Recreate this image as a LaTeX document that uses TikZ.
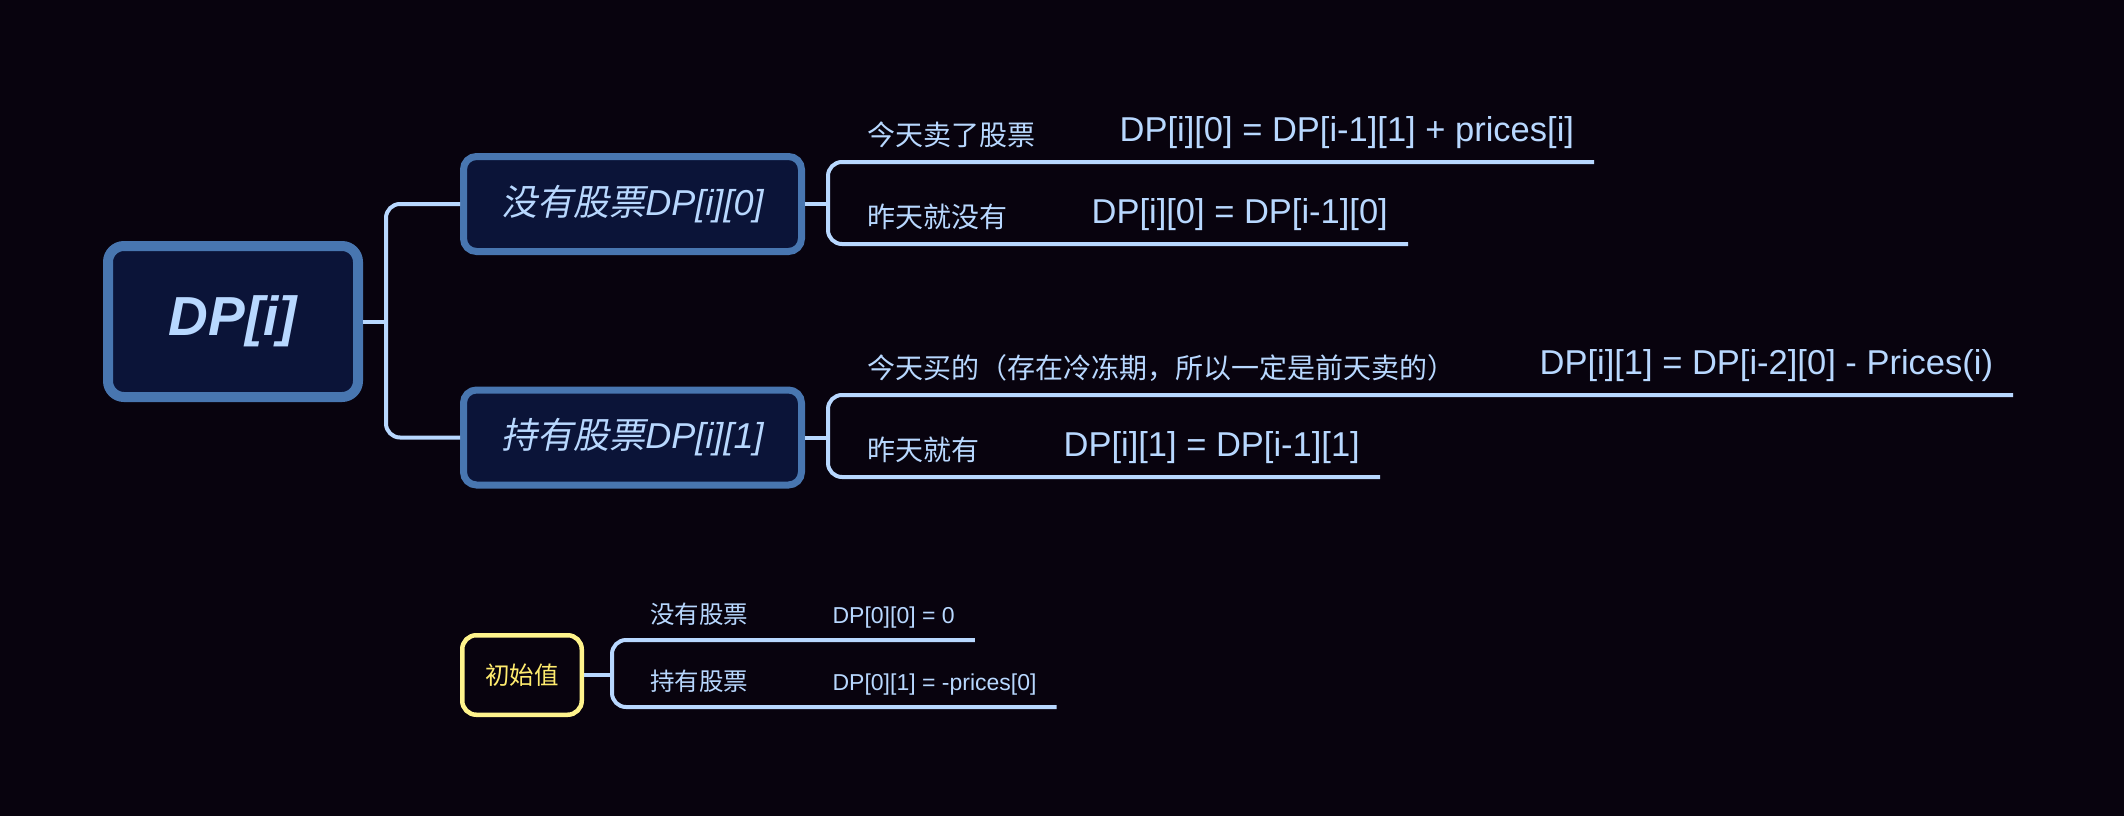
\documentclass[tikz,border=0pt]{standalone}
\usepackage{fontspec}
\setmainfont{Liberation Sans}
\newfontfamily\cjk{Noto Sans CJK SC}
\newfontfamily\cjkslant[FakeSlant=0.2]{Noto Sans CJK SC}
\usetikzlibrary{positioning}

\definecolor{bg}{RGB}{8,3,14}
\definecolor{navy}{RGB}{11,20,56}
\definecolor{steel}{RGB}{72,118,176}
\definecolor{ice}{RGB}{184,216,255}
\definecolor{lemon}{RGB}{255,244,140}
\definecolor{lemontext}{RGB}{255,236,110}

\tikzset{
  rootbox/.style={draw=steel, fill=navy, line width=10pt, rounded corners=16pt,
    minimum width=250pt, minimum height=151pt, text=ice,
    font=\fontsize{55}{60}\selectfont\bfseries\itshape},
  branchbox/.style={draw=steel, fill=navy, line width=7pt, rounded corners=13pt,
    minimum width=338pt, minimum height=95pt, text=ice,
    font=\fontsize{36}{40}\selectfont},
  initbox/.style={draw=lemon, line width=4.5pt, rounded corners=14pt,
    minimum width=119.5pt, minimum height=79.5pt, text=lemontext,
    font=\cjk\fontsize{24.5}{28}\selectfont},
  link/.style={draw=ice, line width=4pt, rounded corners=14pt},
  leaf/.style={inner sep=0pt, anchor=base west, text=ice,
    font=\cjk\fontsize{28}{32}\selectfont},
  formula/.style={inner sep=0pt, anchor=base west, text=ice,
    font=\fontsize{34.5}{40}\selectfont},
  smallleaf/.style={leaf, font=\cjk\fontsize{24.5}{28}\selectfont},
  smallformula/.style={formula, font=\fontsize{23}{26}\selectfont},
}

\begin{document}
\begin{tikzpicture}[x=1pt, y=-1pt]
  \fill[bg] (0,0) rectangle (2124,816);
  \useasboundingbox (0,0) rectangle (2124,816);

  % main tree
  \node[rootbox] (root) at (233,321.5) {DP[i]};
  \node[branchbox] (b0) at (632.5,204) {{\cjkslant 没有股票}{\itshape DP[i][0]}};
  \node[branchbox] (b1) at (632.5,437.5) {{\cjkslant 持有股票}{\itshape DP[i][1]}};

  \coordinate (jr) at (386,321.5);
  \draw[link] (root.east) -- (jr);
  \draw[link] (b0.west) -| (jr) |- (b1.west);

  % rows under the branches
  \coordinate (r00) at (828,162);
  \coordinate (r01) at (828,244);
  \coordinate (r10) at (828,395);
  \coordinate (r11) at (828,477);

  \node[leaf] (l00) at ([shift={(39,-17)}]r00) {今天卖了股票};
  \node[formula, right=84pt of l00.base east, anchor=base west, yshift=4pt] (f00) {DP[i][0] = DP[i-1][1] + prices[i]};
  \node[leaf] (l01) at ([shift={(39,-17)}]r01) {昨天就没有};
  \node[formula, right=84pt of l01.base east, anchor=base west, yshift=4pt] (f01) {DP[i][0] = DP[i-1][0]};
  \node[leaf] (l10) at ([shift={(39,-17)}]r10) {今天买的（存在冷冻期，所以一定是前天卖的）};
  \node[formula, right=84pt of l10.base east, anchor=base west, yshift=4pt] (f10) {DP[i][1] = DP[i-2][0] - Prices(i)};
  \node[leaf] (l11) at ([shift={(39,-17)}]r11) {昨天就有};
  \node[formula, right=84pt of l11.base east, anchor=base west, yshift=4pt] (f11) {DP[i][1] = DP[i-1][1]};

  \foreach \r in {00, 01, 10, 11} {
    \coordinate (e\r) at (f\r.east |- r\r);
  }

  \coordinate (j0) at (b0.east -| r00);
  \coordinate (j1) at (b1.east -| r10);
  \draw[link] (b0.east) -- (j0);
  \draw[link] (b1.east) -- (j1);
  \draw[link] ([xshift=20pt]e00) -- (r00) -- (r01) -- ([xshift=20pt]e01);
  \draw[link] ([xshift=20pt]e10) -- (r10) -- (r11) -- ([xshift=20pt]e11);

  % initial values
  \node[initbox] (init) at (522,675) {初始值};
  \coordinate (r20) at (612,640);
  \coordinate (r21) at (612,707);
  \node[smallleaf] (l20) at ([shift={(38,-17)}]r20) {没有股票};
  \node[smallformula, right=84pt of l20.base east, anchor=base west] (f20) {DP[0][0] = 0};
  \node[smallleaf] (l21) at ([shift={(38,-17)}]r21) {持有股票};
  \node[smallformula, right=84pt of l21.base east, anchor=base west] (f21) {DP[0][1] = -prices[0]};
  \coordinate (e20) at (f20.east |- r20);
  \coordinate (e21) at (f21.east |- r21);

  \coordinate (ji) at (init.east -| r20);
  \draw[link] (init.east) -- (ji);
  \draw[link] ([xshift=20pt]e20) -- (r20) -- (r21) -- ([xshift=20pt]e21);
\end{tikzpicture}
\end{document}
